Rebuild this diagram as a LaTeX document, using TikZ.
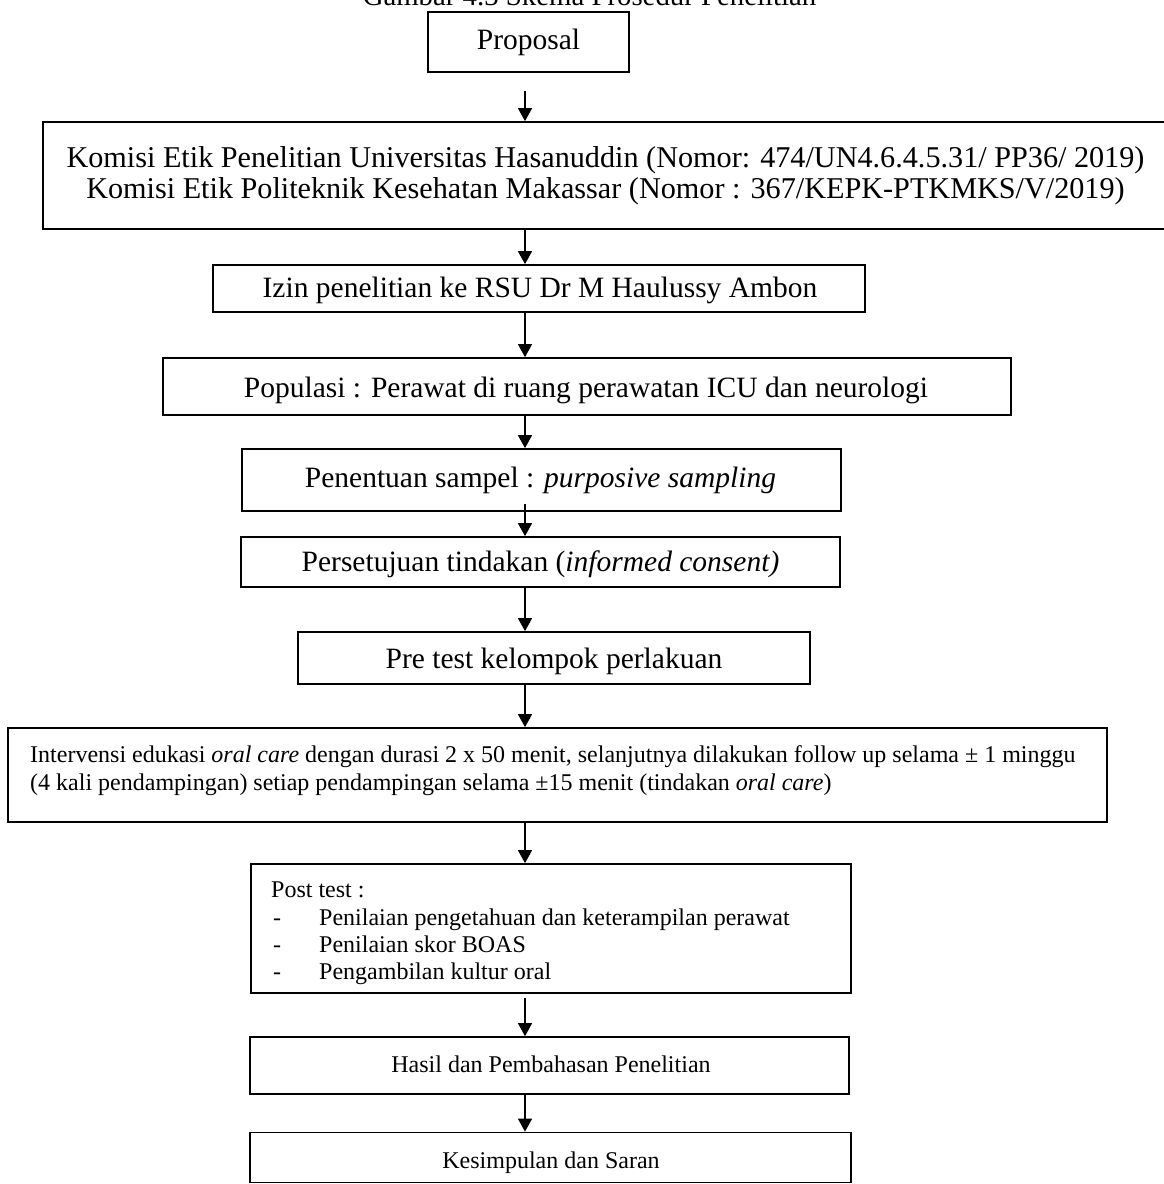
\documentclass[tikz,border=0pt]{standalone}
\usepackage{fontspec}
\setmainfont{Liberation Serif}
\usetikzlibrary{arrows.meta,calc}

\tikzset{
  box/.style={draw, line width=1.7pt, rectangle, inner sep=0pt},
  bigtxt/.style={inner sep=0pt, anchor=base, font=\fontsize{29.5}{34}\selectfont},
  widetxt/.style={inner sep=0pt, anchor=base, font=\fontsize{30.2}{34}\selectfont},
  smalltxt/.style={inner sep=0pt, anchor=base, font=\fontsize{24}{27.6}\selectfont},
  lefttxt/.style={smalltxt, anchor=base west},
  arr/.style={line width=1.2pt, -{Triangle[width=14pt,length=13pt]}},
}

\begin{document}
\begin{tikzpicture}[x=1pt, y=-1pt]
\useasboundingbox (0,0) rectangle (1164,1184);

% caption, only its lower edge falls inside the page
\node[inner sep=0pt, anchor=base, font=\fontsize{28.8}{33}\selectfont] (title) at (589.5,5) {Gambar 4.3 Skema Prosedur Penelitian};

% boxes
\node[box, minimum width=201pt,  minimum height=60pt]  (prop)  at (528.5,42)    {};
\node[box, minimum width=1123pt, minimum height=107pt] (kom)   at (604.5,175.5) {};
\node[box, minimum width=652pt,  minimum height=47pt]  (izin)  at (539,288.5)   {};
\node[box, minimum width=848pt,  minimum height=57pt]  (pop)   at (587,386.5)   {};
\node[box, minimum width=599pt,  minimum height=62pt]  (pen)   at (541.5,480)   {};
\node[box, minimum width=599pt,  minimum height=50pt]  (setuj) at (540.5,562)   {};
\node[box, minimum width=512pt,  minimum height=52pt]  (pre)   at (554,658)     {};
\node[box, minimum width=1099pt, minimum height=94pt]  (intv)  at (557.5,775)   {};
\node[box, minimum width=600pt,  minimum height=129pt] (post)  at (551,928.5)   {};
\node[box, minimum width=599pt,  minimum height=57pt]  (hasil) at (549.5,1065.5){};
\node[box, minimum width=601pt,  minimum height=50pt]  (kes)   at (550.5,1157.5){};

% texts
\node[bigtxt] (prop-t) at (528.5,49) {Proposal};
\node[widetxt] (kom-t1) at (605.5,167) {Komisi Etik Penelitian Universitas Hasanuddin (Nomor: 474/UN4.6.4.5.31/ PP36/ 2019)};
\node[widetxt] (kom-t2) at (605.5,198) {Komisi Etik Politeknik Kesehatan Makassar (Nomor : 367/KEPK-PTKMKS/V/2019)};
\node[bigtxt] (izin-t) at (540,297) {Izin penelitian ke RSU Dr M Haulussy Ambon};
\node[bigtxt] (pop-t) at (586,397) {Populasi : Perawat di ruang perawatan ICU dan neurologi};
\node[bigtxt] (pen-t) at (540.5,487) {Penentuan sampel : \textit{purposive sampling}};
\node[bigtxt] (setuj-t) at (540.5,571) {Persetujuan tindakan (\textit{informed consent)}};
\node[bigtxt] (pre-t) at (554,668) {Pre test kelompok perlakuan};

\node[lefttxt] (intv-t1) at (30,762) {Intervensi edukasi \textit{oral care} dengan durasi 2 x 50 menit, selanjutnya dilakukan follow up selama ± 1 minggu};
\node[lefttxt] (intv-t2) at (30,790) {(4 kali pendampingan) setiap pendampingan selama ±15 menit (tindakan \textit{oral care})};

\node[lefttxt] (post-t0) at (271,897) {Post test :};
\node[lefttxt] (post-d1) at (273,925) {-};
\node[lefttxt] (post-d2) at (273,952) {-};
\node[lefttxt] (post-d3) at (273,979) {-};
\node[lefttxt] (post-t1) at (319,925) {Penilaian pengetahuan dan keterampilan perawat};
\node[lefttxt] (post-t2) at (319,952) {Penilaian skor BOAS};
\node[lefttxt] (post-t3) at (319,979) {Pengambilan kultur oral};

\node[smalltxt] (hasil-t) at (551,1072) {Hasil dan Pembahasan Penelitian};
\node[smalltxt] (kes-t) at (551,1168) {Kesimpulan dan Saran};

% connectors along the common vertical axis
\coordinate (axis) at (525,0);
\draw[arr] ($(prop.south -| axis)+(0,18)$) -- (kom.north -| axis);
\draw[arr] (kom.south -| axis) -- (izin.north -| axis);
\draw[arr] (izin.south -| axis) -- (pop.north -| axis);
\draw[arr] (pop.south -| axis) -- (pen.north -| axis);
\draw[arr] ($(pen.south -| axis)+(0,-8)$) -- (setuj.north -| axis);
\draw[arr] (setuj.south -| axis) -- (pre.north -| axis);
\draw[arr] (pre.south -| axis) -- (intv.north -| axis);
\draw[arr] (intv.south -| axis) -- (post.north -| axis);
\draw[arr] ($(post.south -| axis)+(0,4)$) -- (hasil.north -| axis);
\draw[arr] (hasil.south -| axis) -- (kes.north -| axis);
\end{tikzpicture}
\end{document}
